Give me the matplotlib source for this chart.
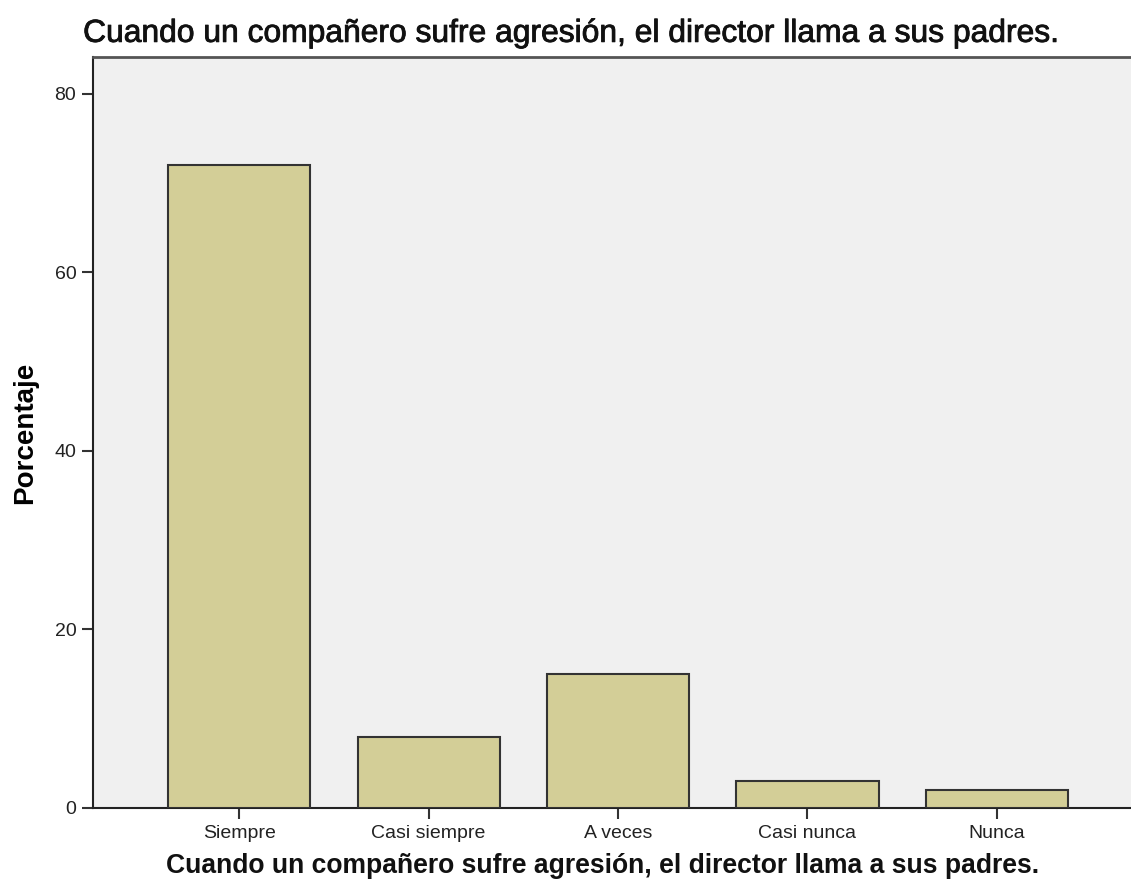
import numpy as np
import matplotlib.pyplot as plt
import matplotlib.patheffects as pe

# Datos (porcentajes)
categorias = ["Siempre", "Casi siempre", "A veces", "Casi nunca", "Nunca"]
porcentajes = [72, 8, 15, 3, 2]
yticks = [0, 20, 40, 60, 80]

titulo = "Cuando un compañero sufre agresión, el director llama a sus padres."

plt.rcParams['font.family'] = ['Liberation Sans', 'DejaVu Sans']

fig = plt.figure(figsize=(11.31, 8.91), dpi=100)
ax = fig.add_axes([93 / 1131, 83 / 891, 1 - 93 / 1131 + 0.002, (808 - 57) / 891])
ax.set_facecolor("#F0F0F0")

x = np.arange(len(categorias))
ax.bar(x, porcentajes, width=0.75, color="#D3CE97", edgecolor="#333333", linewidth=1.5, zorder=3)

ax.set_xlim(-0.772, 4.72)
ax.set_ylim(0, 84.1)
ax.set_xticks(x)
ax.set_xticklabels(categorias, fontsize=14, color="#222222")
ax.set_yticks(yticks)
ax.set_yticklabels([str(v) for v in yticks], fontsize=14, color="#222222")
ax.tick_params(axis='both', direction='out', length=8, width=1.5, color="#333333", pad=4)

for s in ["left", "bottom"]:
    ax.spines[s].set_color("#222222")
    ax.spines[s].set_linewidth(1.5)
ax.spines["top"].set_color("#555555")
ax.spines["top"].set_linewidth(2)
ax.spines["right"].set_visible(False)

ax.set_ylabel("Porcentaje", fontsize=20, fontweight='bold', labelpad=12)

# titulo arriba (peso medio, un poco engrosado)
fig.text(0.5045, 0.962, titulo, fontsize=22.9, ha='center', va='center', color="#111111",
         path_effects=[pe.withStroke(linewidth=0.6, foreground="#111111")])
fig.text(0.533, 0.028, titulo, fontsize=19.1, fontweight='bold', ha='center', va='center', color="#111111")

plt.savefig("out.png", dpi=100)
